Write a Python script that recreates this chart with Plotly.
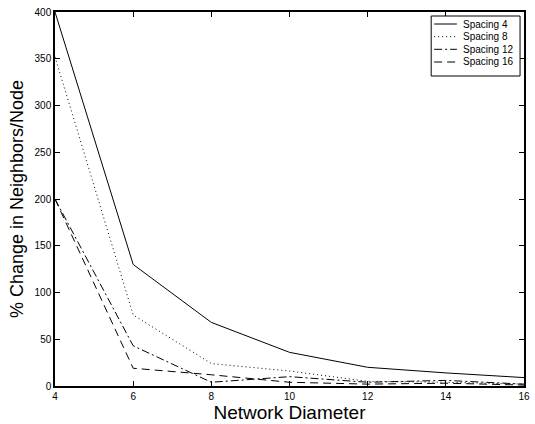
import plotly.graph_objects as go

diameter = [4, 6, 8, 10, 12, 14, 16]
spacing4 = [400, 130, 68, 36, 20, 14, 9]
spacing8 = [352, 76, 24, 16, 5, 4, 2]
spacing12 = [200, 43, 4, 10, 4, 6, 2]
spacing16 = [200, 19, 12, 4, 2, 3, 1]
names = ["Spacing 4", "Spacing 8", "Spacing 12", "Spacing 16"]

dashes = ["solid", "1px,3px", "8px,3px,2px,3px", "8px,5px"]
values = [spacing4, spacing8, spacing12, spacing16]

fig = go.Figure()
for name, vals, dash in zip(names, values, dashes):
    fig.add_trace(go.Scatter(x=diameter, y=vals, mode="lines", name=name,
                             line=dict(color="black", width=1, dash=dash)))

axis_common = dict(showgrid=False, zeroline=False, showline=True, linecolor="black",
                   linewidth=1.5, mirror="ticks", ticks="inside", ticklen=5,
                   tickcolor="black", tickfont=dict(size=10, color="black",
                                                    family="Liberation Sans, Arial"))

# custom compact legend (paper coordinates)
L, PL, PR, PT, PB = 55, 55, 530, 12, 386
W, H = 535, 424
def px(x):
    return (x - PL) / (PR - PL)
def py(y):
    return 1 - (y - PT) / (PB - PT)

shapes = [dict(type="rect", xref="paper", yref="paper",
               x0=px(436), x1=px(526), y0=py(76), y1=py(16),
               line=dict(color="black", width=1), fillcolor="white", layer="above")]
annotations = []
rows = [24, 36.7, 49.3, 62]
for name, dash, ry in zip(names, dashes, rows):
    shapes.append(dict(type="line", xref="paper", yref="paper",
                       x0=px(439), x1=px(462), y0=py(ry), y1=py(ry),
                       line=dict(color="black", width=1, dash=dash), layer="above"))
    annotations.append(dict(text=name, xref="paper", yref="paper", x=px(466), y=py(ry),
                            xanchor="left", yanchor="middle", showarrow=False,
                            font=dict(size=10, color="black", family="Liberation Sans, Arial")))

fig.update_layout(
    width=W, height=H,
    margin=dict(l=PL, r=W - PR, t=PT, b=H - PB),
    plot_bgcolor="white", paper_bgcolor="white",
    font=dict(family="Liberation Sans, Arial", color="black"),
    xaxis=dict(range=[4, 16], tickvals=[4, 6, 8, 10, 12, 14, 16],
               title=dict(text="Network Diameter", font=dict(size=19), standoff=1),
               **axis_common),
    yaxis=dict(range=[0, 400], tickvals=[0, 50, 100, 150, 200, 250, 300, 350, 400],
               title=dict(text="% Change in Neighbors/Node", font=dict(size=18), standoff=6),
               **axis_common),
    showlegend=False,
    shapes=shapes,
    annotations=annotations,
)

fig.write_html("out.html")
